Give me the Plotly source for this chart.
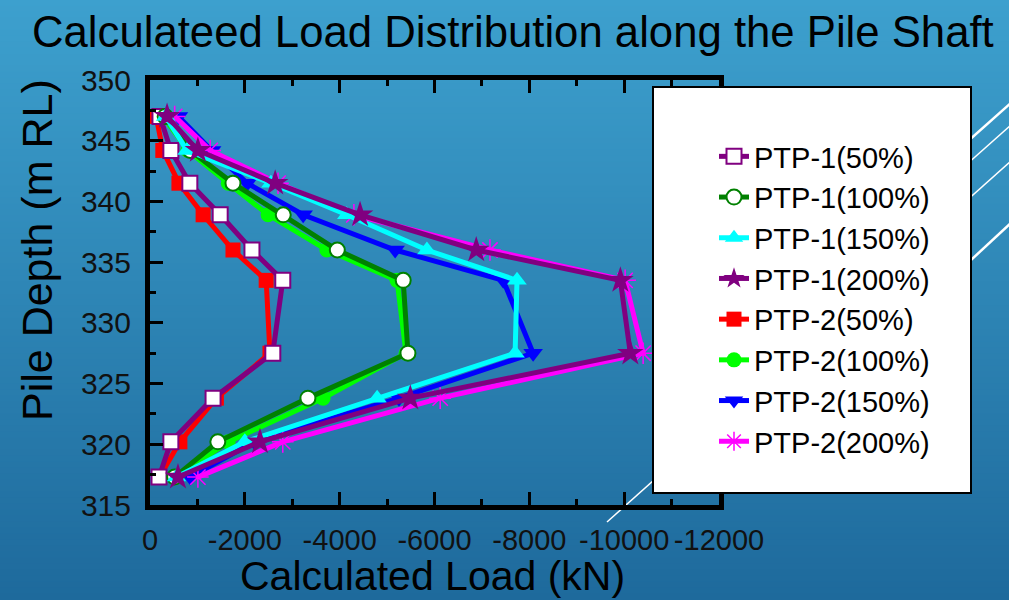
import plotly.graph_objects as go

# ---- data -------------------------------------------------------------
depth = [347.0, 344.2, 341.5, 338.9, 336.0, 333.5, 327.5, 323.8, 320.2, 317.3]

ptp1_50 = [-210, -440, -840, -1480, -2150, -2800, -2590, -1330, -440, -190]
ptp1_100 = [-320, -850, -1750, -2810, -3950, -5340, -5440, -3330, -1430, -520]
ptp1_150 = [-330, -780, -2550, -4150, -5840, -7740, -7700, -4790, -2000, -560]
ptp1_200 = [-360, -1010, -2640, -4430, -6880, -9920, -10130, -5490, -2320, -590]
ptp2_50 = [-130, -270, -610, -1120, -1750, -2450, -2530, -1400, -630, -200]
ptp2_100 = [-280, -800, -1650, -2490, -3730, -5210, -5400, -3650, -1650, -550]
ptp2_150 = [-600, -1300, -2050, -3230, -5170, -7450, -8080, -5250, -2200, -850]
ptp2_200 = [-520, -1270, -2700, -4300, -7170, -10020, -10400, -6120, -2800, -1010]

x_tick_vals = [0, -2000, -4000, -6000, -8000, -10000, -12000]
x_tick_text = ["0", "-2000", "-4000", "-6000", "-8000", "-10000", "-12000"]
y_tick_vals = [315, 320, 325, 330, 335, 340, 345, 350]

# ---- page geometry ----------------------------------------------------
W, H = 1009, 600
L, R, T, B = 150, 290, 80, 95
PW, PH = W - L - R, H - T - B
FONT = "Liberation Sans, Arial, sans-serif"


def fx(p):
    """pixel column -> paper x"""
    return (p - L) / PW


def fy(p):
    """pixel row (from top) -> paper y"""
    return (H - B - p) / PH


# ---- series styles (drawn PTP-2 first so PTP-1 sits on top) -----------
series = [
    ("PTP-2(50%)", ptp2_50, "#ff0000", dict(symbol="square", size=15, color="#ff0000"), 5),
    ("PTP-2(100%)", ptp2_100, "#00ff00", dict(symbol="circle", size=15, color="#00ff00"), 6),
    ("PTP-2(150%)", ptp2_150, "#0000ff", dict(symbol="triangle-down", size=17, color="#0000ff"), 7),
    ("PTP-2(200%)", ptp2_200, "#ff00ff",
     dict(symbol="asterisk-open", size=18, color="#ff00ff", line=dict(color="#ff00ff", width=1.5)), 8),
    ("PTP-1(50%)", ptp1_50, "#800080",
     dict(symbol="square", size=15, color="white", line=dict(color="#800080", width=2)), 1),
    ("PTP-1(100%)", ptp1_100, "#008000",
     dict(symbol="circle", size=15, color="white", line=dict(color="#008000", width=2)), 2),
    ("PTP-1(150%)", ptp1_150, "#00ffff", dict(symbol="triangle-up", size=17, color="#00ffff"), 3),
    ("PTP-1(200%)", ptp1_200, "#800080", dict(symbol="star", size=20, color="#800080"), 4),
]

fig = go.Figure()
for name, xs, col, mk, rank in series:
    fig.add_trace(go.Scatter(
        x=xs, y=depth, name=name, mode="lines+markers",
        line=dict(color=col, width=5), marker=mk, legendrank=rank,
    ))

# ---- background: vertical blue gradient --------------------------------
shapes = []
top_c = (61, 160, 206)
bot_c = (30, 106, 156)
n = 100
for i in range(n):
    t = i / (n - 1)
    c = tuple(round(a + (b - a) * t) for a, b in zip(top_c, bot_c))
    shapes.append(dict(
        type="rect", xref="paper", yref="paper", layer="below",
        x0=fx(0), x1=fx(W), y0=fy(H * (i + 1) / n + 0.5), y1=fy(H * i / n - 0.5),
        fillcolor="rgb(%d,%d,%d)" % c, line=dict(width=0),
    ))

# decorative white diagonal strokes
for (xa, ya, xb, yb, w) in [
    (607, 522, 1012, 160, 1.5),
    (930, 175, 1012, 102, 2.5),
    (930, 197, 1012, 124, 1.5),
    (930, 298, 1012, 222, 2.5),
]:
    shapes.append(dict(type="line", xref="paper", yref="paper", layer="below",
                       x0=fx(xa), y0=fy(ya), x1=fx(xb), y1=fy(yb),
                       line=dict(color="white", width=w)))

# legend panel
shapes.append(dict(type="rect", xref="paper", yref="paper", layer="above",
                   x0=fx(653), x1=fx(971), y0=fy(493), y1=fy(87),
                   fillcolor="white", line=dict(color="black", width=2)))

annotations = [
    dict(text="Calculateed Load Distribution along the Pile Shaft",
         xref="paper", yref="paper", x=fx(30), y=fy(32), xanchor="left", yanchor="middle",
         showarrow=False, font=dict(family=FONT, size=43.7, color="black")),
    dict(text="Calculated Load (kN)", xref="paper", yref="paper",
         x=fx(432), y=fy(576), xanchor="center", yanchor="middle",
         showarrow=False, font=dict(family=FONT, size=41, color="black")),
    dict(text="Pile Depth (m RL)", xref="paper", yref="paper", textangle=-90,
         x=fx(37), y=fy(250), xanchor="center", yanchor="middle",
         showarrow=False, font=dict(family=FONT, size=43, color="black")),
]

axis_common = dict(
    showline=True, linecolor="black", linewidth=5, mirror="ticks",
    ticks="inside", ticklen=13, tickwidth=3, tickcolor="black",
    showgrid=False, zeroline=False, automargin=False, tickangle=0,
)

fig.update_layout(
    width=W, height=H,
    margin=dict(l=L, r=R, t=T, b=B, autoexpand=False),
    paper_bgcolor="rgb(45,133,181)",
    plot_bgcolor="rgba(0,0,0,0)",
    shapes=shapes,
    annotations=annotations,
    xaxis=dict(range=[0, -12000], tickvals=x_tick_vals, ticktext=x_tick_text,
               minor=dict(ticks="inside", ticklen=6, tickwidth=3, tickcolor="black", dtick=1000),
               ticklabelstandoff=5,
               tickfont=dict(family=FONT, size=29, color="#111111"),
               **axis_common),
    yaxis=dict(range=[315, 350], tickvals=y_tick_vals,
               minor=dict(ticks="inside", ticklen=6, tickwidth=3, tickcolor="black", dtick=2.5),
               ticklabelstandoff=8,
               tickfont=dict(family=FONT, size=30, color="#111111"),
               **axis_common),
    showlegend=True,
    legend=dict(x=fx(714), y=fy(131), xanchor="left", yanchor="top",
                bgcolor="rgba(0,0,0,0)", borderwidth=0,
                font=dict(family=FONT, size=29, color="black"),
                tracegroupgap=0, itemwidth=30),
)

fig.write_html("out.html")
